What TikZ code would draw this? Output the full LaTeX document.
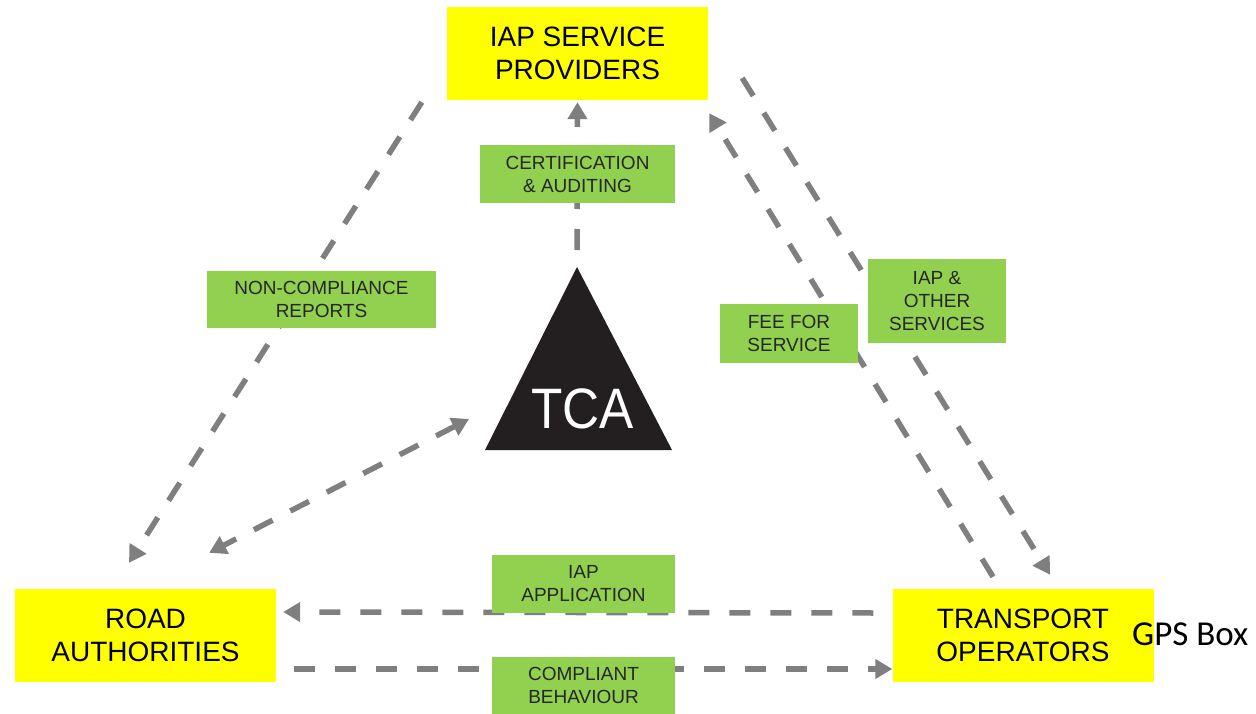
\documentclass[tikz,border=0pt]{standalone}
\usepackage{fontspec}
\setmainfont{Liberation Sans}
\newfontfamily\gpsfont{Carlito}
\usepackage{graphicx}
\usepackage{xcolor}
\usetikzlibrary{arrows.meta}
\usetikzlibrary{positioning}

\definecolor{boxyellow}{HTML}{FFFF00}
\definecolor{taggreen}{HTML}{92D050}
\definecolor{flowgray}{HTML}{7F7F7F}
\definecolor{tcablack}{HTML}{231F20}

\begin{document}
\begin{tikzpicture}[x=1pt,y=-1pt,
    party/.style={fill=boxyellow,minimum width=261pt,minimum height=93pt,inner sep=0pt,align=center,font=\fontsize{28}{33}\selectfont},
    tag/.style={fill=taggreen,inner sep=0pt,align=center,text=black!85,font=\fontsize{19}{23}\selectfont},
    flow/.style={draw=flowgray,line width=5.5pt,dash pattern=on 21pt off 20pt,>={Triangle[length=17pt,width=19pt]}}]
      \useasboundingbox (0,0) rectangle (1256,714);

      \node[party] (iap)        at (577.5,53.5)   {IAP SERVICE\\PROVIDERS};
      \node[party] (road)       at (145.5,635.5)  {ROAD\\AUTHORITIES};
      \node[party] (transport)  at (1023,635.5)   {TRANSPORT\\OPERATORS};
      \node[anchor=base west,inner sep=0pt,font=\gpsfont\fontsize{35}{40}\selectfont] (gps) at (1132,645) {GPS Box};

      % TCA
      \coordinate (apex)  at (577,267);
      \coordinate (baseL) at (485,450);
      \coordinate (baseR) at (672,450);
      \fill[tcablack] (apex) -- (baseL) -- (baseR) -- cycle;
      \node[text=white,inner sep=0pt,anchor=base,font=\fontsize{57}{60}\selectfont] (tca) at (582.5,428) {\scalebox{0.9}[1]{TCA}};

      \draw[flow,->]   ([shift={(-25,2)}]iap.south west)     -- ([shift={(-16.5,-26)}]road.north);
      \draw[flow,<->]  ([shift={(-16,-31)}]baseL)            -- ([shift={(-67,-36)}]road.north east);
      \draw[flow,->]   ([shift={(0,-17)}]apex)               -- ([shift={(0,2)}]iap.south);
      \draw[flow,->]   ([shift={(-30,-12)}]transport.north)  -- ([shift={(1,13)}]iap.south east);
      \draw[flow,->]   ([shift={(34,24.5)}]iap.east)         -- ([shift={(27,-14)}]transport.north);
      \draw[flow,->]   ([shift={(-19,-22.5)}]transport.west) -- ([shift={(7,-23.5)}]road.east);
      \draw[flow,->]   ([shift={(18,33.5)}]road.east)        -- ([shift={(0,33.5)}]transport.west);

      \node[tag,minimum width=195pt,minimum height=58pt] (cert)    at (577.5,174)   {CERTIFICATION\\\& AUDITING};
      \node[tag,minimum width=229pt,minimum height=57pt] (noncomp) at (321.5,299.5) {NON-COMPLIANCE\\REPORTS};
      \node[tag,minimum width=138pt,minimum height=59pt] (fee)     at (789,333.5)   {FEE FOR\\SERVICE};
      \node[tag,minimum width=138pt,minimum height=84pt] (other)   at (937,301)     {IAP \&\\OTHER\\SERVICES};
      \node[tag,minimum width=183pt,minimum height=58pt] (appl)    at (583.5,584)   {IAP\\APPLICATION};
      \node[tag,minimum width=183pt,minimum height=57pt] (compl)   at (583.5,685.5) {COMPLIANT\\BEHAVIOUR};
\end{tikzpicture}
\end{document}
